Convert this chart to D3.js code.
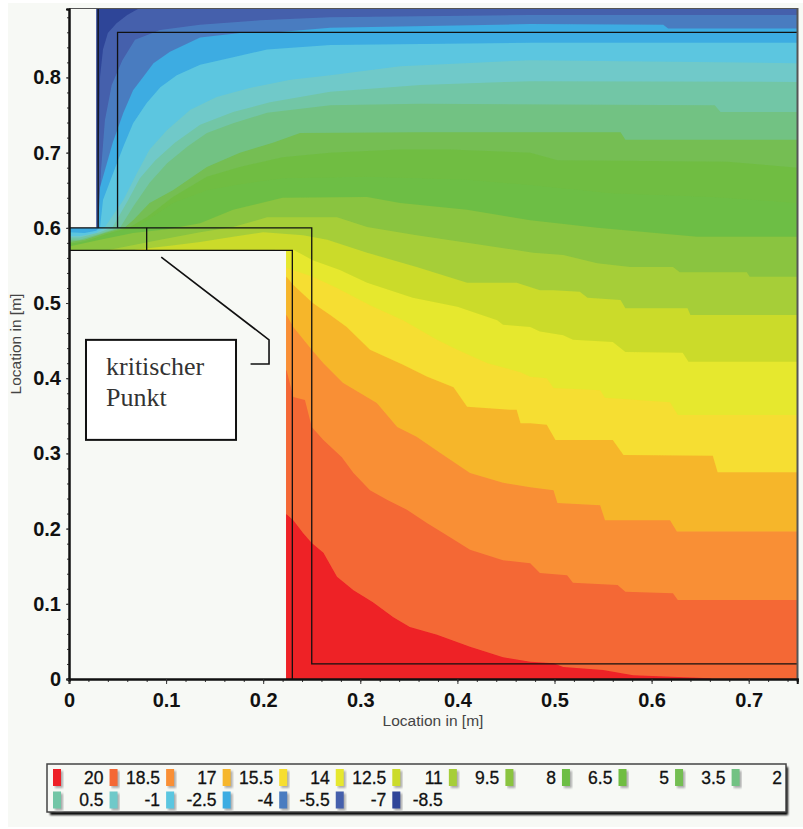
<!DOCTYPE html>
<html><head><meta charset="utf-8">
<script src="https://cdn.jsdelivr.net/npm/d3@7"></script>
<style>html,body{margin:0;padding:0;background:#fff}svg{display:block}</style>
</head><body><svg id="c" width="803" height="829"></svg>
<script>
const temps=[-8.5,-7,-5.5,-4,-2.5,-1,0.5,2,3.5,5,6.5,8,9.5,11,12.5,14,15.5,17,18.5,20];
const bandColors=["#2f4598","#4560ac","#4a7cc0","#3cace2","#5bc6e0","#70c9c9","#72c6a6","#72c283","#74be52","#70bd42","#6dbe45","#8ac43f","#a6ce39","#cbdb2a","#e6e82e","#f6de30","#f6b62c","#f98f35","#f46835","#ee2027"];
const legendRow1=["20","18.5","17","15.5","14","12.5","11","9.5","8","6.5","5","3.5","2"];
const legendRow2=["0.5","-1","-2.5","-4","-5.5","-7","-8.5"];
const xTicks=[0,0.1,0.2,0.3,0.4,0.5,0.6,0.7];
const yTicks=[0,0.1,0.2,0.3,0.4,0.5,0.6,0.7,0.8];
const xMinor=d3.range(0,0.751,0.02);
const yMinor=d3.range(0,0.89,0.02);
const iso_m85=[[0,.6],[.028,.601],[.029,.673],[.031,.726],[.032,.801],[.035,.837],[.040,.859],[.049,.872],[.060,.883],[.071,.891],[.75,.891]];
const iso_m7=[[0,.6],[.031,.601],[.033,.677],[.037,.743],[.044,.790],[.055,.823],[.068,.850],[.094,.863],[.135,.870],[.197,.876],[.269,.880],[.475,.883],[.75,.883]];
const iso_m55=[[0,.6],[.030,.601],[.032,.654],[.045,.713],[.056,.753],[.066,.783],[.076,.800],[.087,.819],[.104,.834],[.135,.853],[.176,.859],[.214,.860],[.269,.866],[.475,.871],[.612,.870],[.617,.865],[.75,.865]];
const iso_m4=[[0,.594],[.016,.593],[.028,.596],[.032,.601],[.035,.637],[.044,.668],[.056,.708],[.066,.739],[.080,.766],[.094,.787],[.111,.803],[.135,.817],[.169,.827],[.204,.837],[.269,.843],[.475,.846],[.75,.846]];
const iso_m25=[[0,.589],[.011,.589],[.028,.593],[.037,.601],[.056,.637],[.070,.673],[.083,.704],[.101,.730],[.125,.757],[.152,.774],[.186,.786],[.228,.797],[.269,.803],[.341,.815],[.475,.823],[.75,.819]];
const iso_m1=[[0,.587],[.011,.587],[.032,.594],[.045,.601],[.061,.637],[.073,.666],[.089,.690],[.109,.713],[.135,.737],[.169,.754],[.207,.767],[.269,.781],[.362,.790],[.475,.795],[.75,.794]];
const iso_p05=[[0,.584],[.011,.584],[.032,.592],[.053,.601],[.066,.628],[.083,.660],[.101,.686],[.122,.708],[.142,.726],[.169,.739],[.204,.753],[.269,.763],[.362,.765],[.665,.763],[.671,.754],[.75,.754]];
const iso_p2=[[0,.581],[.016,.584],[.037,.593],[.058,.601],[.066,.610],[.083,.633],[.107,.650],[.142,.681],[.176,.700],[.210,.713],[.238,.726],[.362,.727],[.568,.727],[.573,.717],[.75,.717]];
const iso_p35=[[0,.579],[.016,.581],[.037,.591],[.063,.601],[.080,.614],[.107,.641],[.142,.668],[.176,.681],[.220,.694],[.269,.700],[.341,.704],[.392,.704],[.475,.700],[.503,.690],[.678,.688],[.75,.680]];
const iso_p5=[[0,.577],[.022,.584],[.047,.594],[.070,.601],[.085,.614],[.107,.633],[.142,.650],[.176,.658],[.220,.666],[.307,.668],[.410,.664],[.475,.657],[.559,.646],[.663,.641],[.75,.633]];
const iso_p65=[[0,.575],[.032,.584],[.066,.593],[.101,.598],[.135,.606],[.169,.624],[.220,.640],[.307,.641],[.341,.633],[.410,.624],[.475,.610],[.544,.600],[.647,.588],[.75,.588]];
const iso_p8=[[.042,.571],[.094,.584],[.135,.594],[.169,.601],[.204,.614],[.276,.614],[.307,.601],[.358,.590],[.410,.580],[.478,.567],[.509,.564],[.544,.553],[.578,.548],[.622,.548],[.629,.541],[.698,.541],[.701,.535],[.75,.535]];
const iso_p95=[[.068,.571],[.104,.576],[.135,.581],[.169,.588],[.200,.594],[.241,.590],[.266,.584],[.307,.567],[.358,.548],[.410,.527],[.461,.527],[.485,.517],[.499,.517],[.526,.515],[.534,.507],[.568,.504],[.573,.493],[.637,.493],[.640,.484],[.75,.484]];
const iso_p11=[[.212,.571],[.231,.571],[.251,.557],[.279,.544],[.307,.527],[.354,.507],[.400,.495],[.441,.477],[.447,.471],[.475,.468],[.485,.462],[.509,.457],[.519,.451],[.560,.448],[.573,.435],[.632,.434],[.638,.422],[.75,.422]];
const iso_p125=[[.224,.547],[.251,.535],[.276,.520],[.310,.497],[.344,.477],[.379,.451],[.400,.438],[.431,.420],[.465,.408],[.475,.402],[.492,.400],[.499,.387],[.547,.384],[.552,.374],[.619,.368],[.627,.351],[.75,.351]];
const iso_p14=[[.224,.535],[.231,.524],[.251,.500],[.269,.484],[.286,.468],[.310,.438],[.344,.418],[.369,.402],[.396,.388],[.410,.362],[.454,.358],[.461,.358],[.465,.340],[.475,.340],[.492,.338],[.501,.318],[.560,.318],[.571,.298],[.663,.297],[.668,.275],[.75,.275]];
const iso_p155=[[.224,.484],[.231,.468],[.250,.438],[.262,.420],[.282,.394],[.317,.367],[.338,.335],[.358,.322],[.382,.301],[.413,.274],[.447,.261],[.475,.255],[.499,.251],[.503,.234],[.547,.231],[.552,.211],[.619,.211],[.626,.196],[.75,.196]];
const iso_p17=[[.224,.411],[.231,.375],[.243,.371],[.250,.335],[.262,.318],[.281,.295],[.293,.274],[.310,.251],[.328,.238],[.348,.225],[.369,.207],[.392,.189],[.413,.172],[.447,.158],[.475,.154],[.485,.141],[.513,.138],[.519,.128],[.565,.125],[.573,.116],[.622,.114],[.627,.105],[.75,.105]];
const iso_p185=[[.224,.219],[.231,.211],[.241,.194],[.250,.181],[.262,.168],[.276,.136],[.293,.118],[.313,.102],[.334,.082],[.351,.069],[.379,.059],[.413,.043],[.447,.029],[.475,.023],[.499,.021],[.509,.016],[.550,.012],[.581,.005],[.660,.001],[.662,0]];
const contours=[iso_m85,iso_m7,iso_m55,iso_m4,iso_m25,iso_m1,iso_p05,iso_p2,iso_p35,iso_p5,iso_p65,iso_p8,iso_p95,iso_p11,iso_p125,iso_p14,iso_p155,iso_p17,iso_p185];
const wallTop=[[0,.6],[.028,.891]], wallBottom=[[0,0],[.2235,.57]];
const structure=[[[.03,.891],[.03,.6]],[[0,.6],[.25,.6],[.25,.02],[.75,.02]],[[.05,.6],[.05,.86],[.75,.86]],[[0,.57],[.23,.57],[.23,0]],[[.08,.6],[.08,.57]]];
const leader=[[.095,.561],[.206,.451],[.206,.419],[.187,.419]];
const noteBox=[[.0175,.451],[.172,.318]];

const bg="#f7f9f5";
const x=d3.scaleLinear().domain([0,0.75]).range([69,797.25]);
const y=d3.scaleLinear().domain([0,0.891]).range([679,9]);
const svg=d3.select("#c");
const defs=svg.append("defs");
defs.append("clipPath").attr("id","plot").append("rect").attr("x",69).attr("y",9).attr("width",728.25).attr("height",670);
const bl=defs.append("filter").attr("id","soft").attr("x","-5%").attr("y","-5%").attr("width","110%").attr("height","110%");
bl.append("feGaussianBlur").attr("stdDeviation",0.6);
const sh=defs.append("filter").attr("id","sh").attr("x","-5%").attr("y","-20%").attr("width","110%").attr("height","140%");
sh.append("feGaussianBlur").attr("stdDeviation",0.8);

svg.append("rect").attr("x",8).attr("y",3).attr("width",795).attr("height",824).attr("fill",bg);

const line=d3.line().x(d=>x(d[0])).y(d=>y(d[1]));
const plot=svg.append("g").attr("clip-path","url(#plot)");
const bands=plot.append("g").attr("filter","url(#soft)");
bands.append("rect").attr("x",x(0)-5).attr("y",y(0.891)-5).attr("width",x(0.75)-x(0)+10).attr("height",y(0)-y(0.891)+10).attr("fill",bandColors[0]);
bands.selectAll("path").data(contours).join("path")
  .attr("d",c=>line(c.concat([[0.76,c[c.length-1][1]],[0.76,-0.01],[0,-0.01]]))+"Z")
  .attr("fill",(c,i)=>bandColors[i+1]);
plot.append("rect").attr("x",x(wallTop[0][0])).attr("y",y(wallTop[1][1])).attr("width",x(wallTop[1][0])-x(wallTop[0][0])).attr("height",y(wallTop[0][1])-y(wallTop[1][1])).attr("fill",bg);
plot.append("rect").attr("x",x(wallBottom[0][0])).attr("y",y(wallBottom[1][1])).attr("width",x(wallBottom[1][0])-x(wallBottom[0][0])).attr("height",y(wallBottom[0][1])-y(wallBottom[1][1])).attr("fill",bg);

svg.append("g").selectAll("path").data(structure).join("path").attr("d",line).attr("fill","none").attr("stroke","#111").attr("stroke-width",1.3);

// frame
svg.append("line").attr("x1",69).attr("x2",798).attr("y1",8.5).attr("y2",8.5).attr("stroke","#555").attr("stroke-width",1.2);
svg.append("line").attr("x1",797.5).attr("x2",797.5).attr("y1",8).attr("y2",680).attr("stroke","#555").attr("stroke-width",2);

// axes
const gx=svg.append("g").attr("transform","translate(0,679)");
gx.call(d3.axisBottom(x).tickValues(xMinor).tickSize(3).tickFormat(""));
const gx2=svg.append("g").attr("transform","translate(0,679)");
gx2.call(d3.axisBottom(x).tickValues(xTicks).tickSize(5).tickPadding(9).tickFormat(d=>d===0?"0":d3.format(".1f")(d)));
const gy=svg.append("g").attr("transform","translate(69,0)");
gy.call(d3.axisLeft(y).tickValues(yMinor).tickSize(2).tickFormat(""));
const gy2=svg.append("g").attr("transform","translate(69,0)");
gy2.call(d3.axisLeft(y).tickValues(yTicks).tickSize(3).tickPadding(5).tickFormat(d=>d===0?"0":d3.format(".1f")(d)));
[gx,gx2,gy,gy2].forEach(g=>{g.selectAll("path").attr("stroke","#111").attr("stroke-width",2);g.selectAll("line").attr("stroke","#333");
  g.selectAll("text").attr("font-family","'Liberation Sans',Arial,sans-serif").attr("font-size",20).attr("font-weight","bold").attr("fill","#111");});
svg.append("text").attr("x",433).attr("y",726).attr("text-anchor","middle").attr("font-family","'Liberation Sans',Arial,sans-serif").attr("font-size",15.5).attr("fill","#444").text("Location in [m]");
svg.append("text").attr("transform","translate(21,344) rotate(-90)").attr("text-anchor","middle").attr("font-family","'Liberation Sans',Arial,sans-serif").attr("font-size",15.5).attr("fill","#444").text("Location in [m]");

// note
svg.append("path").attr("d",line(leader)).attr("fill","none").attr("stroke","#111").attr("stroke-width",1.6);
svg.append("rect").attr("x",x(noteBox[0][0])).attr("y",y(noteBox[0][1])).attr("width",x(noteBox[1][0])-x(noteBox[0][0])).attr("height",y(noteBox[1][1])-y(noteBox[0][1])).attr("fill","#fff").attr("stroke","#111").attr("stroke-width",2);
[["kritischer",375],["Punkt",406]].forEach(t=>svg.append("text").attr("x",106).attr("y",t[1]).attr("font-family","'Liberation Serif','Times New Roman',serif").attr("font-size",26).attr("fill","#333").text(t[0]));

// legend
const lg=svg.append("g");
lg.append("rect").attr("x",50).attr("y",767).attr("width",738).attr("height",48).attr("fill","#000").attr("filter","url(#sh)");
lg.append("rect").attr("x",47).attr("y",764).attr("width",739).attr("height",48).attr("fill",bg).attr("stroke","#444").attr("stroke-width",1.5);
const colorFor=l=>bandColors[temps.indexOf(+l)];
[[legendRow1,769,784],[legendRow2,791.5,806]].forEach(r=>{
  const g=lg.append("g").selectAll("g").data(r[0]).join("g").attr("transform",(d,i)=>`translate(${53+i*56.55},0)`);
  g.append("rect").attr("x",2).attr("y",r[1]+2).attr("width",8).attr("height",17).attr("fill","#aaa").attr("filter","url(#sh)");
  g.append("rect").attr("x",0).attr("y",r[1]).attr("width",8).attr("height",17).attr("fill",d=>colorFor(d));
  g.append("text").attr("x",50.5).attr("y",r[2]).attr("text-anchor","end").attr("font-family","'Liberation Sans',Arial,sans-serif").attr("font-size",17.5).attr("fill","#111").attr("stroke","#111").attr("stroke-width",0.3).text(d=>d);
});
</script></body></html>
